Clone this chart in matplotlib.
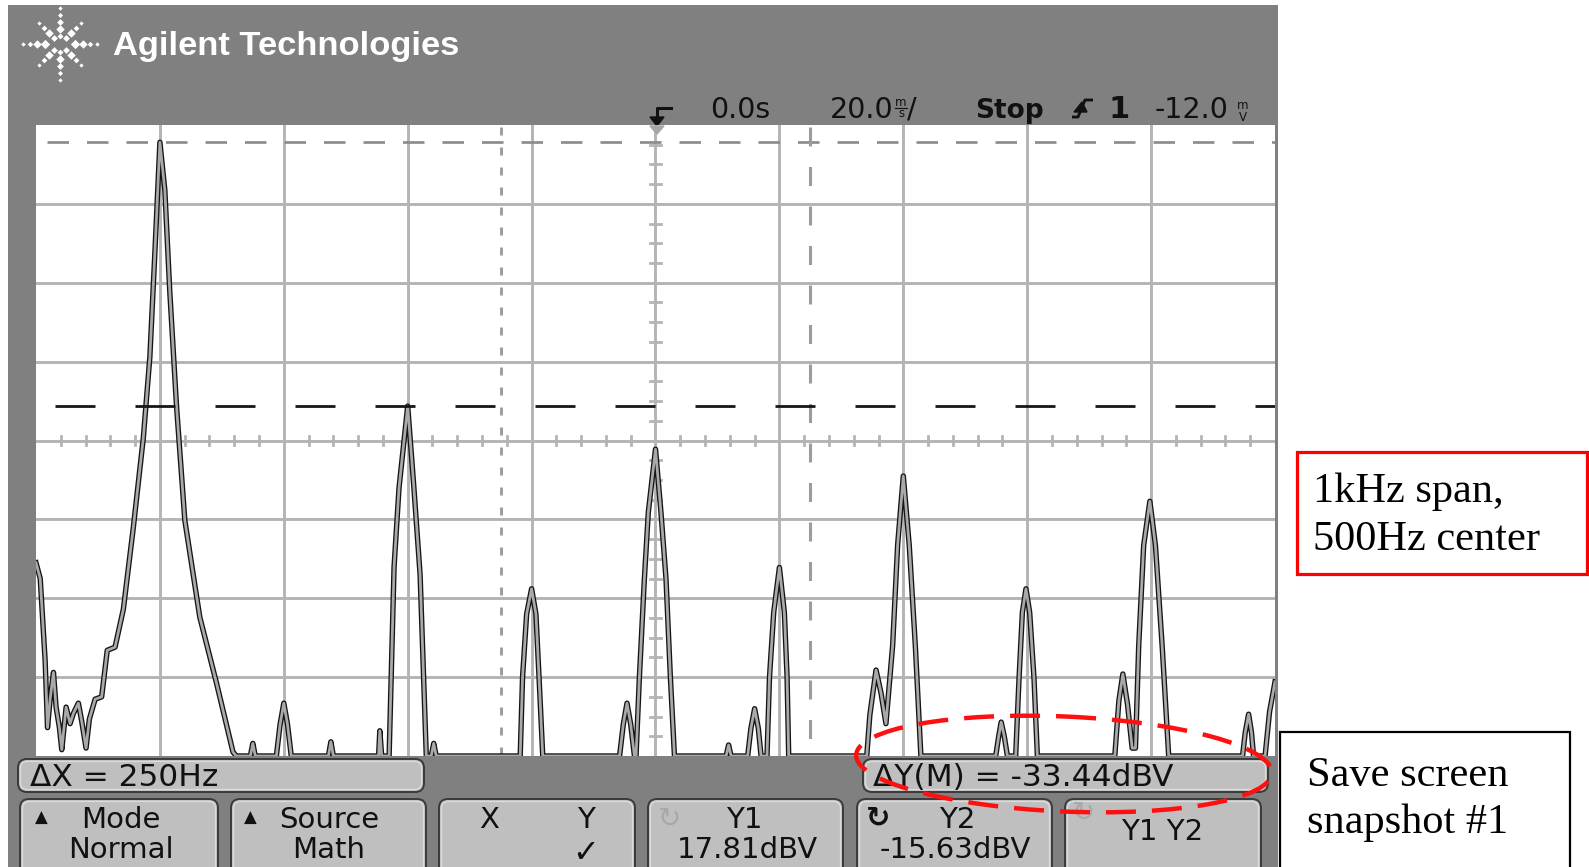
import math
import matplotlib
matplotlib.use("Agg")
import matplotlib.pyplot as plt
from matplotlib.patches import FancyBboxPatch, Rectangle, Ellipse, Polygon

# ------------------------------------------------------------------ data
# FFT trace (frequency in Hz, level in dBV)
freq_hz = [0, 3.4, 7.4, 9.3, 11.4, 14.1, 16.2, 18.9, 20.8, 24.3, 27.5, 30.2, 34.2,
           36.9, 40.4, 43.1, 47.7, 53.0, 57.5, 63.8, 70.5, 78.5, 86.6, 91.9, 96.0,
           100, 104, 108, 113.4, 120.1, 132.2, 145.6, 159, 161.7,
           173, 175, 177,
           194, 197, 200, 203, 206,
           236, 238, 240,
           276.5, 277.5, 279,
           285, 289, 293, 300, 305, 310, 315,
           319, 321, 323,
           390.8, 392.7, 396, 400, 403.5, 406, 409,
           471, 474, 477, 480, 483,
           484.3, 487, 491, 494.2, 500, 504.4, 508.5, 512, 515.3,
           557, 559, 561,
           574.4, 577, 580, 583, 585.2,
           590, 592, 595.4, 600, 604, 606.2, 607.5,
           670.5, 673, 678, 682, 686, 691.4, 695.4, 700, 704.8, 709.7, 714.2,
           774.6, 777, 779, 781.5, 784,
           790.7, 793.4, 796.1, 799, 802, 805.5, 808.2,
           870.7, 874, 877.2, 881, 884.7, 887.4, 890, 894, 899, 903.5, 908.9, 914.2,
           973.8, 976, 978.7, 981, 982.7,
           992, 995.6, 1000]
level_dbv = [-35.5, -37.5, -48.0, -56.4, -52.8, -49.4, -53.8, -56.4, -59.2, -53.8, -55.9, -54.6, -53.3,
             -55.6, -59.0, -55.3, -52.8, -52.5, -46.6, -46.2, -41.4, -31.1, -19.7, -9.4, 4.0,
             17.81, 11.7, -1.2, -15.6, -30.1, -42.4, -50.7, -59.5, -60,
             -60, -58.4, -60,
             -60, -56, -53.3, -56, -60,
             -60, -58.2, -60,
             -60, -56.8, -60,
             -60, -36, -26, -15.63, -26, -37, -60,
             -60, -58.4, -60,
             -60, -50, -42, -38.8, -42, -50, -60,
             -60, -56, -53.3, -56, -60,
             -60, -50, -37.6, -29.1, -21.1, -29.1, -37.6, -50, -60,
             -60, -58.6, -60,
             -60, -56.5, -54, -56.5, -60,
             -60, -50, -41.8, -36.1, -41.8, -50, -60,
             -60, -54.8, -49.1, -52, -55.9, -46, -33.3, -24.5, -33.3, -46, -60,
             -60, -57.5, -55.7, -57.5, -60,
             -60, -50.2, -41.8, -38.8, -41.8, -50.2, -60,
             -60, -53, -49.6, -53.5, -59, -59, -46, -33.3, -27.7, -33.3, -46, -60,
             -60, -57, -54.7, -57, -60,
             -60, -54.4, -50.6]

span_hz = [0, 1000]          # 1 kHz span, 500 Hz centre
range_dbv = [-60, 20]        # 10 dB/div, 8 divisions
cursor_x_hz = [375, 625]     # X1, X2
cursor_y_dbv = [17.81, -15.63]  # Y1, Y2

header_time = "0.0s"
header_scale = "20.0"
header_state = "Stop"
header_chan = "1"
header_level = "-12.0"
button_top = ["Mode", "Source", "X", "Y1", "Y2", "Y1 Y2"]
button_bottom = ["Normal", "Math", "", "", "", ""]
note_span = "1kHz span,\n500Hz center"
note_save = "Save screen\nsnapshot #1"

# ------------------------------------------------------------------ figure
W, H = 1589, 867
plt.rcParams['font.family'] = ['DejaVu Sans']
plt.rcParams['lines.scale_dashes'] = False
PX = 72 / 100.0  # points per pixel

fig = plt.figure(figsize=(W / 100, H / 100), dpi=100, facecolor='white')


def px_axes(z):
    a = fig.add_axes([0, 0, 1, 1], zorder=z)
    a.set_xlim(0, W)
    a.set_ylim(H, 0)
    a.axis('off')
    a.patch.set_alpha(0)
    return a


bg = px_axes(0)
fg = px_axes(2)

SCOPE = '#808080'
BTN = '#bfbfbf'
GRID = '#b4b4b4'
INK = '#111111'

# scope frame
bg.add_patch(Rectangle((8, 5), 1270, 880, facecolor=SCOPE, edgecolor='none'))

# Agilent logo (star of diamonds)
cx, cy = 60, 44
rays = {0: ([15, 23, 30, 37], [5.5, 5, 3.2, 2.6]),
        90: ([8, 15, 22, 29, 36], [3.5, 5, 4, 3, 2.5]),
        45: ([9, 16, 23, 30], [4, 5, 3.4, 2.5])}
for k in range(8):
    a = 45 * k
    key = 0 if a % 180 == 0 else (90 if a % 180 == 90 else 45)
    radii, sizes = rays[key]
    for r, s in zip(radii, sizes):
        bg.scatter(cx + r * math.cos(math.radians(a)), cy - r * math.sin(math.radians(a)),
                   s=(s * PX * 1.2) ** 2, marker='D', color='white', lw=0)
bg.text(113, 55, "Agilent Technologies", color='white', fontsize=24.8, fontweight='bold',
        family=['Liberation Sans', 'DejaVu Sans'], va='baseline', ha='left')

# header status line
hs = 20.5
bg.text(710, 118, header_time, fontsize=hs, va='baseline', color=INK)
bg.text(830, 118, header_scale, fontsize=hs, va='baseline', color=INK)
bg.text(901, 106, "m", fontsize=8.5, va='baseline', ha='center', color=INK)
bg.text(901, 117, "s", fontsize=8.5, va='baseline', ha='center', color=INK)
bg.plot([895, 907], [107.5, 107.5], color=INK, lw=0.8)
bg.text(907, 118, "/", fontsize=hs, va='baseline', color=INK)
bg.text(975, 118, header_state, fontsize=19, fontweight='bold', va='baseline', color=INK)
bg.plot([1072, 1078, 1085, 1093], [117, 117, 100, 100], color=INK, lw=2.2 * PX * 1.3,
        solid_capstyle='butt')
bg.add_patch(Polygon([(1074, 112), (1087, 112), (1082, 102)], closed=True, color=INK))
bg.text(1108, 118, header_chan, fontsize=22, fontweight='bold', va='baseline', color=INK)
bg.text(1155, 118, header_level, fontsize=hs, va='baseline', color=INK)
bg.text(1243, 109, "m", fontsize=8.5, va='baseline', ha='center', color=INK)
bg.text(1243, 121, "V", fontsize=8.5, va='baseline', ha='center', color=INK)

# trigger arrow above the centre line
bg.plot([657, 657, 671], [119, 108, 108], color=INK, lw=2.2)
bg.add_patch(Polygon([(650, 117), (664, 117), (657, 126)], closed=True, color=INK))


def rbox(x0, y0, x1, y1, face=BTN):
    bg.add_patch(FancyBboxPatch((x0, y0), x1 - x0, y1 - y0,
                                boxstyle="round,pad=0,rounding_size=9",
                                facecolor=face, edgecolor='#3a3a3a', lw=1.4))
    bg.add_patch(FancyBboxPatch((x0 + 2.5, y0 + 2.5), x1 - x0 - 5, y1 - y0 - 5,
                                boxstyle="round,pad=0,rounding_size=7",
                                facecolor='none', edgecolor='#dcdcdc', lw=0.9))


bs = 21
ms = 22.5
# measurement boxes
dx = cursor_x_hz[1] - cursor_x_hz[0]
dy = cursor_y_dbv[1] - cursor_y_dbv[0]
rbox(18, 759, 424, 792)
bg.text(30, 786, f"ΔX = {dx:.0f}Hz", fontsize=ms, va='baseline', color=INK)
rbox(863, 759, 1268, 792)
bg.text(873, 786, f"ΔY(M) = {dy:.2f}dBV", fontsize=ms, va='baseline', color=INK)

# soft-key buttons
btn_x = [(20, 218), (231, 426), (439, 635), (648, 843), (857, 1052), (1065, 1261)]
for x0, x1 in btn_x:
    rbox(x0, 799, x1, 885)

bg.text(41, 818, "▲", fontsize=12, ha='center', va='center', color=INK)
bg.text(121, 828, button_top[0], fontsize=bs, ha='center', va='baseline', color=INK)
bg.text(121, 858, button_bottom[0], fontsize=bs, ha='center', va='baseline', color=INK)
bg.text(250, 818, "▲", fontsize=12, ha='center', va='center', color=INK)
bg.text(329, 828, button_top[1], fontsize=bs, ha='center', va='baseline', color=INK)
bg.text(329, 858, button_bottom[1], fontsize=bs, ha='center', va='baseline', color=INK)
bg.text(489, 828, "X", fontsize=bs, ha='center', va='baseline', color=INK)
bg.text(586, 828, "Y", fontsize=bs, ha='center', va='baseline', color=INK)
bg.text(586, 862, "✓", fontsize=23, ha='center', va='baseline', color=INK)
bg.text(670, 819, "↻", fontsize=20, ha='center', va='center', color='#a8a8a8')
bg.text(744, 828, button_top[3], fontsize=bs, ha='center', va='baseline', color=INK)
bg.text(747, 858, f"{cursor_y_dbv[0]:.2f}dBV", fontsize=bs, ha='center', va='baseline', color=INK)
bg.text(878, 819, "↻", fontsize=21, fontweight='bold', ha='center', va='center', color=INK)
bg.text(957, 828, button_top[4], fontsize=bs, ha='center', va='baseline', color=INK)
bg.text(955, 858, f"{cursor_y_dbv[1]:.2f}dBV", fontsize=bs, ha='center', va='baseline', color=INK)
bg.text(1084, 813, "↻", fontsize=20, ha='center', va='center', color='#a8a8a8')
bg.text(1162, 840, button_top[5], fontsize=bs, ha='center', va='baseline', color=INK)

# annotations on the right
serif = ['Liberation Serif', 'DejaVu Serif']
bg.add_patch(Rectangle((1297, 452), 290, 122, facecolor='white', edgecolor='#ff0000', lw=2.3))
bg.text(1313, 502, note_span.split("\n")[0], fontsize=30.5, family=serif, va='baseline', color='black')
bg.text(1313, 550, note_span.split("\n")[1], fontsize=30.5, family=serif, va='baseline', color='black')
bg.add_patch(Rectangle((1280, 732), 290, 150, facecolor='white', edgecolor='black', lw=1.6))
bg.text(1307, 786, note_save.split("\n")[0], fontsize=30.5, family=serif, va='baseline', color='black')
bg.text(1307, 833, note_save.split("\n")[1], fontsize=30.5, family=serif, va='baseline', color='black')

# ------------------------------------------------------------------ graticule + trace
GL, GR, GT, GB = 36, 1275, 125, 756
ax = fig.add_axes([GL / W, 1 - GB / H, (GR - GL) / W, (GB - GT) / H], zorder=1)
ax.set_xlim(*span_hz)
ax.set_ylim(*range_dbv)
ax.set_facecolor('white')
for s in ax.spines.values():
    s.set_visible(False)
ax.set_xticks([])
ax.set_yticks([])

hdiv = (span_hz[1] - span_hz[0]) / 10
vdiv = (range_dbv[1] - range_dbv[0]) / 8
xc = (span_hz[0] + span_hz[1]) / 2
yc = (range_dbv[0] + range_dbv[1]) / 2
for i in range(1, 10):
    ax.axvline(span_hz[0] + i * hdiv, color=GRID, lw=2.1, zorder=1)
for j in range(1, 8):
    ax.axhline(range_dbv[0] + j * vdiv, color=GRID, lw=2.1, zorder=1)
for i in range(1, 50):
    if i % 5:
        f = span_hz[0] + i * hdiv / 5
        ax.plot([f, f], [yc - 0.6, yc + 0.6], color=GRID, lw=2.0, zorder=1)
for j in range(1, 32):
    if j % 4:
        d = range_dbv[0] + j * vdiv / 4
        ax.plot([xc - 4.5, xc + 4.5], [d, d], color=GRID, lw=2.0, zorder=1)

# cursors
ax.plot([9, span_hz[1]], [cursor_y_dbv[0]] * 2, color='#8a8a8a', lw=1.9,
        dashes=(21.5 * PX, 18 * PX), zorder=2)
ax.plot([15, span_hz[1]], [cursor_y_dbv[1]] * 2, color='#161616', lw=2.0,
        dashes=(40 * PX, 40 * PX), zorder=6)
ax.plot([cursor_x_hz[0]] * 2, [range_dbv[1] - 0.3, range_dbv[0]], color='#9c9c9c', lw=2.1,
        dashes=(8 * PX, 12 * PX), zorder=2)
ax.plot([cursor_x_hz[1]] * 2, [range_dbv[1] - 0.3, range_dbv[0]], color='#9c9c9c', lw=2.2,
        dashes=(19 * PX, 20.5 * PX), zorder=2)

# FFT trace: dark outline with grey core
ax.plot(freq_hz, level_dbv, color='#151515', lw=3.9, solid_joinstyle='round', zorder=4)
ax.plot(freq_hz, level_dbv, color='#a9a9a9', lw=2.0, solid_joinstyle='round', zorder=5)

# ------------------------------------------------------------------ overlay
fg.add_patch(Polygon([(650, 126), (664, 126), (657, 134)], closed=True, color='#a6a6a6'))
fg.add_patch(Ellipse((1064, 764), 416, 95, angle=2.5, facecolor='none', edgecolor='#ff1010',
                     lw=3.2, linestyle=(0, (30 * PX, 16 * PX))))

fig.savefig("out.png", dpi=100, facecolor='white')
